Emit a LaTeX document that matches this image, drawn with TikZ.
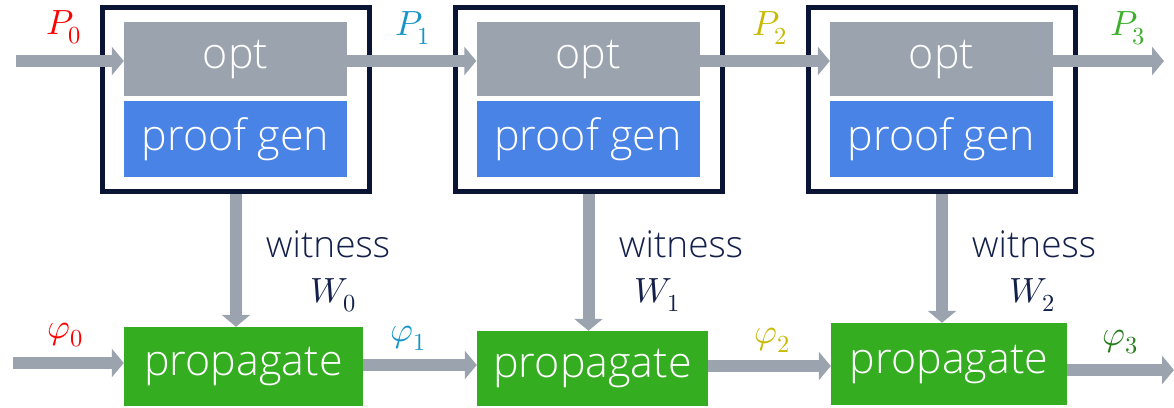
\documentclass[tikz,border=0pt]{standalone}
\usepackage{fontspec}
\usepackage{unicode-math}
\setmainfont{Open Sans Light}
\setmathfont{Latin Modern Math}
\usetikzlibrary{arrows.meta,calc}

\definecolor{flowgray}{RGB}{154,163,174}
\definecolor{genblue}{RGB}{74,131,230}
\definecolor{propgreen}{RGB}{52,173,33}
\definecolor{framenavy}{RGB}{10,20,52}
\definecolor{textnavy}{RGB}{19,32,74}
\definecolor{lblred}{RGB}{255,0,0}
\definecolor{lblcyan}{RGB}{22,150,200}
\definecolor{lblyellow}{RGB}{200,186,0}
\definecolor{lblgreen}{RGB}{58,176,40}
\definecolor{lbldkgreen}{RGB}{40,125,30}

\begin{document}
\begin{tikzpicture}[x=1pt,y=-1pt,
  box/.style={rectangle, inner sep=0pt, text=white,
    font=\fontsize{43}{45}\selectfont},
  optbox/.style={box, fill=flowgray, minimum width=223pt, minimum height=74pt},
  genbox/.style={box, fill=genblue, minimum width=223pt, minimum height=76pt},
  propbox/.style={box, fill=propgreen},
  stage/.style={rectangle, draw=framenavy, line width=5pt, fill=white,
    minimum width=267pt, minimum height=184pt, inner sep=0pt},
  arr/.style={draw=flowgray, line width=12pt,
    -{Triangle[width=28pt,length=12pt]}},
  mlbl/.style={font=\fontsize{35}{37}\selectfont, inner sep=0pt},
  wlbl/.style={font=\fontsize{37}{39}\selectfont, text=textnavy, inner sep=0pt}
]
\useasboundingbox (0,0) rectangle (1174,407);

% stage frames
\node[stage] (f1) at (236,99.5) {};
\node[stage] (f2) at (588.5,99.5) {};
\node[stage] (f3) at (942,99.5) {};

% opt and proof generation blocks
\node[optbox] (o1) at (235.5,59) {opt};
\node[optbox] (o2) at (588,59) {opt};
\node[optbox] (o3) at (941.5,59) {opt};
\node[genbox] (g1) at (235.5,139) {proof gen};
\node[genbox] (g2) at (588,139) {proof gen};
\node[genbox] (g3) at (941.5,139) {proof gen};

% propagation blocks
\node[propbox, minimum width=239pt, minimum height=79pt] (p1) at (243.5,366.5) {propagate};
\node[propbox, minimum width=231pt, minimum height=75pt] (p2) at (592.5,368.5) {propagate};
\node[propbox, minimum width=236pt, minimum height=82pt] (p3) at (949,364) {propagate};

% free ends
\coordinate (pin) at (16,61);
\coordinate (pout) at (1164,61);
\coordinate (phin) at (13,363);
\coordinate (phout) at (1174,370);

% program flow
\draw[arr] (pin) -- (o1.west |- pin);
\draw[arr] (o1.east |- pin) -- (o2.west |- pin);
\draw[arr] (o2.east |- pin) -- (o3.west |- pin);
\draw[arr] (o3.east |- pin) -- (pout);

% witnesses
\draw[arr] (f1.south) -- (f1.south |- p1.north);
\draw[arr] (f2.south) -- (f2.south |- p2.north);
\draw[arr] (f3.south) -- (f3.south |- p3.north);

% property flow
\draw[arr] (phin) -- (p1.west |- phin);
\draw[arr] (p1.east |- 0,365) -- (p2.west |- 0,365);
\draw[arr] (p2.east |- 0,366) -- (p3.west |- 0,366);
\draw[arr] (p3.east |- phout) -- (phout);

% labels
\node[mlbl, text=lblred] (lp0) at (64,27) {$P_0$};
\node[mlbl, text=lblcyan] (lp1) at (413,28) {$P_1$};
\node[mlbl, text=lblyellow] (lp2) at (770,28) {$P_2$};
\node[mlbl, text=lblgreen] (lp3) at (1128,28) {$P_3$};

\node[mlbl, text=lblred] (lf0) at (65,335) {$\varphi_0$};
\node[mlbl, text=lblcyan] (lf1) at (408,338) {$\varphi_1$};
\node[mlbl, text=lblyellow] (lf2) at (772,340) {$\varphi_2$};
\node[mlbl, text=lbldkgreen] (lf3) at (1120,342) {$\varphi_3$};

\node[wlbl] (w0) at (328,244) {witness};
\node[wlbl] (w1) at (681,244) {witness};
\node[wlbl] (w2) at (1034,244) {witness};
\node[mlbl, text=textnavy] (lw0) at (333,295) {$W_0$};
\node[mlbl, text=textnavy] (lw1) at (657,295) {$W_1$};
\node[mlbl, text=textnavy] (lw2) at (1032,295) {$W_2$};
\end{tikzpicture}
\end{document}
